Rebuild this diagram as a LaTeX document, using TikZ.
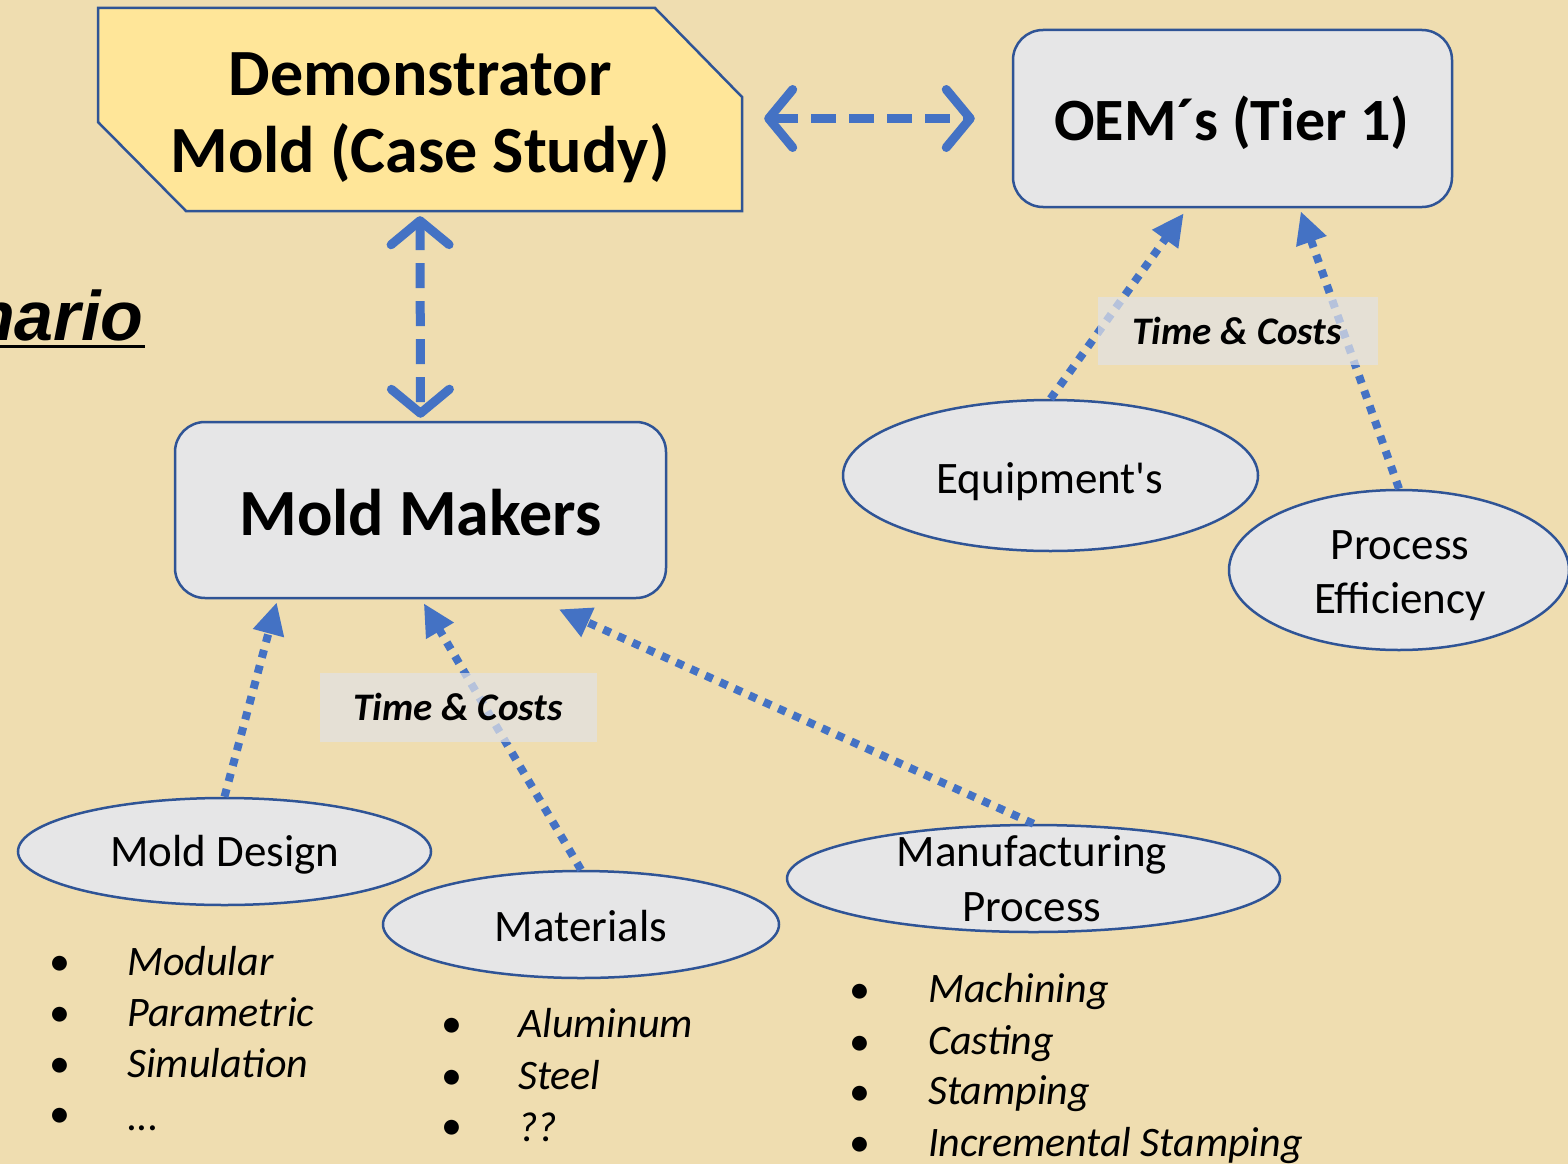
\documentclass[tikz,border=0pt]{standalone}
\usepackage{fontspec}
\setmainfont{Carlito}
\newfontfamily\plainfont{Carlito}
\newfontfamily\arialfont{Liberation Sans}
\usetikzlibrary{arrows.meta,shapes.geometric}
\definecolor{bgc}{RGB}{239,221,176}
\definecolor{nodefill}{RGB}{230,230,231}
\definecolor{bordc}{RGB}{47,84,150}
\definecolor{arrowc}{RGB}{68,114,196}
\definecolor{demfill}{RGB}{255,230,153}
\definecolor{tcfill}{RGB}{226,226,228}
\begin{document}
\begin{tikzpicture}[x=1pt,y=-1pt,
  box/.style={draw=bordc, line width=2.5pt, fill=nodefill, rounded corners=30pt, inner sep=0pt},
  oval/.style={ellipse, draw=bordc, line width=2.5pt, fill=nodefill, inner sep=0pt},
  bigtxt/.style={font=\fontsize{66}{78}\selectfont\bfseries, text=black},
  ovtxt/.style={font=\plainfont\fontsize{45}{54}\selectfont, text=black, anchor=base, inner sep=0pt},
  listtxt/.style={font=\fontsize{42}{50}\selectfont\itshape, text=black, anchor=base west, inner sep=0pt},
  bul/.style={font=\fontsize{42}{50}\selectfont, text=black, anchor=base, inner sep=0pt},
  dasharrow/.style={draw=arrowc, line width=9pt, dash pattern=on 25pt off 13pt,
     {Straight Barb[length=24pt,width=58pt,round]}-{Straight Barb[length=24pt,width=58pt,round]}},
  dotarrow/.style={draw=arrowc, line width=8pt, dash pattern=on 8pt off 8pt,
     -{Triangle[length=32pt,width=30pt]}},
  tclabel/.style={fill=tcfill, fill opacity=0.72, text opacity=1, inner sep=0pt,
     font=\fontsize{39}{46}\selectfont\bfseries\itshape, text=black}
]
\fill[bgc] (0,0) rectangle (1568,1164);
\useasboundingbox (0,0) rectangle (1568,1164);

% left title fragment (cut at the left edge, as in the reference)
\node[font=\arialfont\bfseries\itshape\fontsize{70}{80}\selectfont, anchor=base west, inner sep=0pt] (nario) at (-28,340) {nario};
\draw[line width=3pt] (0,346) -- (145,346);

% Demonstrator
\fill[demfill] (98,8) -- (655,8) -- (742,97) -- (742,211) -- (186,211) -- (98,122) -- cycle;
\draw[bordc, line width=2.5pt, line join=miter] (98,8) -- (655,8) -- (742,97) -- (742,211) -- (186,211) -- (98,122) -- cycle;
\node[minimum width=644pt, minimum height=203pt, inner sep=0pt] (dem) at (420,109.5) {};
\node[bigtxt, anchor=base, inner sep=0pt] (dem1) at (420,95) {Demonstrator};
\node[bigtxt, anchor=base, inner sep=0pt] (dem2) at (420,172) {Mold (Case Study)};

% OEM
\node[box, minimum width=439pt, minimum height=177pt] (oem) at (1232.5,118.5) {};
\node[bigtxt, font=\fontsize{60}{72}\selectfont\bfseries, anchor=base, inner sep=0pt] (oemt) at (1232,140) {OEM´s (Tier 1)};

% Mold Makers
\node[box, minimum width=491pt, minimum height=176pt] (mm) at (420.5,510) {};
\node[bigtxt, anchor=base, inner sep=0pt] (mmt) at (420.5,535) {Mold Makers};

% ellipses
\node[oval, minimum width=415pt, minimum height=151pt] (eq) at (1050.5,475.5) {};
\node[ovtxt] (eqt) at (1050,493) {Equipment's};
\node[oval, minimum width=340pt, minimum height=160pt] (pe) at (1399,570) {};
\node[ovtxt] (pet1) at (1400,559) {Process};
\node[ovtxt] (pet2) at (1400,613) {Efficiency};
\node[oval, minimum width=413pt, minimum height=107pt] (md) at (224.5,851.5) {};
\node[ovtxt] (mdt) at (225,866) {Mold Design};
\node[oval, minimum width=396pt, minimum height=107pt] (mat) at (581,924.5) {};
\node[ovtxt] (matt) at (581,941) {Materials};
\node[oval, minimum width=493pt, minimum height=107pt] (mp) at (1033.5,878.5) {};
\node[ovtxt] (mpt1) at (1032,866) {Manufacturing};
\node[ovtxt] (mpt2) at (1032,921) {Process};

% dashed double arrows
\draw[dasharrow, shorten <=22pt, shorten >=37pt] (dem.east |- oem.west) -- (oem.west);
\draw[dasharrow, shorten <=5pt, shorten >=3pt] (dem.south) -- (mm.north);

% dotted arrows
\draw[dotarrow] (eq.north) -- ([xshift=172pt,yshift=-5pt]oem.south west);
\draw[dotarrow] (pe.north) -- ([xshift=289pt,yshift=-3pt]oem.south west);
\draw[dotarrow] (md.north) -- ([xshift=103pt,yshift=-3pt]mm.south west);
\draw[dotarrow] (mat.north) -- ([xshift=250pt,yshift=-4pt]mm.south west);
\draw[dotarrow] (mp.north) -- ([xshift=385pt,yshift=-10pt]mm.south west);

% Time & Costs labels
\node[tclabel, minimum width=280pt, minimum height=68pt] (tc1) at (1238,331) {};
\node[tclabel, anchor=base, fill=none] (tc1t) at (1237,344) {Time \& Costs};
\node[tclabel, minimum width=277pt, minimum height=69pt] (tc2) at (458.5,707.5) {};
\node[tclabel, anchor=base, fill=none] (tc2t) at (458,720) {Time \& Costs};

% lists
\node[bul] (b11) at (60,975) {•};  \node[listtxt] (l11) at (127,975) {Modular};
\node[bul] (b12) at (60,1026) {•}; \node[listtxt] (l12) at (127,1026) {Parametric};
\node[bul] (b13) at (60,1077) {•}; \node[listtxt] (l13) at (127,1077) {Simulation};
\node[bul] (b14) at (60,1127) {•}; \node[listtxt] (l14) at (127,1130) {...};

\node[bul] (b21) at (452,1037) {•}; \node[listtxt] (l21) at (518,1037) {Aluminum};
\node[bul] (b22) at (452,1089) {•}; \node[listtxt] (l22) at (518,1089) {Steel};
\node[bul] (b23) at (452,1139) {•}; \node[listtxt] (l23) at (518,1141) {??};

\node[bul] (b31) at (860,1003) {•}; \node[listtxt] (l31) at (928,1002) {Machining};
\node[bul] (b32) at (860,1055) {•}; \node[listtxt] (l32) at (928,1054) {Casting};
\node[bul] (b33) at (860,1105) {•}; \node[listtxt] (l33) at (928,1104) {Stamping};
\node[bul] (b34) at (860,1156) {•}; \node[listtxt] (l34) at (928,1156) {Incremental Stamping};
\end{tikzpicture}
\end{document}
